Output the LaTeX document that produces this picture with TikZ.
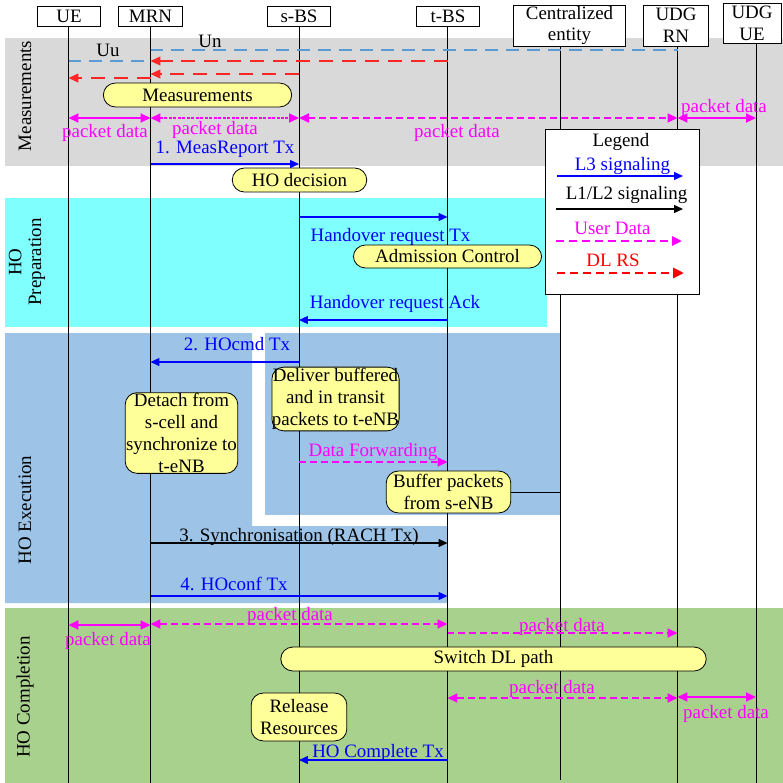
\documentclass[tikz,border=0pt]{standalone}
\usepackage{fontspec}
\setmainfont{Liberation Serif}
\usetikzlibrary{arrows.meta}
\definecolor{bandgray}{HTML}{D9D9D9}
\definecolor{bandcyan}{HTML}{80FFFF}
\definecolor{bandsteel}{HTML}{9DC3E6}
\definecolor{bandgreen}{HTML}{A9D18E}
\definecolor{pillyellow}{HTML}{FFFF99}
\definecolor{unblue}{HTML}{5B9BD5}
\definecolor{rsred}{HTML}{FF0000}
\definecolor{sigblue}{HTML}{0000FF}
\definecolor{datamag}{HTML}{FF00FF}
\tikzset{
  head/.style={draw, fill=white, inner sep=0pt, line width=0.8pt, align=center,
    font=\fontsize{19}{22}\selectfont},
  life/.style={line width=0.8pt},
  pill/.style={draw, fill=pillyellow, rounded corners=12pt, line width=0.8pt, inner sep=0pt},
  msgbox/.style={draw, fill=pillyellow, rounded corners=12pt, line width=0.8pt, inner sep=0pt,
    align=center, font=\fontsize{19}{22.3}\selectfont},
  lbl/.style={inner sep=0pt, text height=12.5pt, text depth=4pt, yshift=-1.5pt},
  phase/.style={rotate=90, inner sep=0pt, align=center, font=\fontsize{19}{20}\selectfont},
  sig/.style={sigblue, line width=1.3pt, -{Triangle[length=9pt,width=8pt]}},
  sigk/.style={black, line width=1.3pt, -{Triangle[length=9pt,width=8pt]}},
  rs/.style={rsred!85!white, line width=1.2pt, dash pattern=on 14pt off 9pt, -{Triangle[length=10pt,width=9pt]}},
  un/.style={unblue, line width=1.3pt, dash pattern=on 13pt off 8pt},
  dsolid/.style={datamag, line width=2pt, {Triangle[length=10pt,width=9pt]}-{Triangle[length=10pt,width=9pt]}},
  ddash/.style={datamag, line width=2pt, dash pattern=on 7pt off 4pt},
  ddot/.style={datamag, line width=2pt, dash pattern=on 3pt off 1.5pt},
  both/.style={{Triangle[length=10pt,width=9pt]}-{Triangle[length=10pt,width=9pt]}},
  fwd/.style={-{Triangle[length=10pt,width=9pt]}},
}
\begin{document}
\begin{tikzpicture}[x=1bp, y=-1bp, font=\fontsize{19}{22}\selectfont]
\useasboundingbox (0,0) rectangle (783,783);

% phase bands
\fill[bandgray] (5,38) rectangle (783,166);
\fill[bandcyan] (5,198) rectangle (547,327);
\fill[bandsteel] (5,333) -- (252,333) -- (252,526) -- (447.5,526) -- (447.5,603) -- (5,603) -- cycle;
\fill[bandsteel] (265,333) rectangle (560,515);
\fill[bandgreen] (5,608) rectangle (783,783);

% phase names
\node[phase] (pMeas) at (25,96) {Measurements};
\node[phase] (pPrep) at (27,262) {HO\\Preparation};
\node[phase] (pExec) at (25,510) {HO Execution};
\node[phase] (pComp) at (25,697) {HO Completion};

% lifeline heads
\coordinate (ue) at (68.5,26);
\coordinate (mrn) at (150.5,26);
\coordinate (sbs) at (299,26);
\coordinate (tbs) at (447.5,26);
\coordinate (cen) at (560.5,46);
\coordinate (rn) at (677.5,46);
\coordinate (udg) at (756,44);

\foreach \l in {ue,mrn,sbs,tbs,rn,udg}
  \draw[life] (\l) -- (\l |- 0,783);
\draw[life] (cen) -- (cen |- 0,780);

\node[head, minimum width=64pt, minimum height=20pt] (hUE) at (69,16) {UE};
\node[head, minimum width=65pt, minimum height=20pt] (hMRN) at (150.5,16) {MRN};
\node[head, minimum width=64pt, minimum height=20pt] (hSBS) at (299,16) {s-BS};
\node[head, minimum width=64pt, minimum height=20pt] (hTBS) at (448,16) {t-BS};
\node[head, minimum width=113pt, minimum height=41pt] (hCEN) at (569.5,25.5) {Centralized\\entity};
\node[head, minimum width=65pt, minimum height=41pt] (hRN) at (676,25.5) {UDG\\RN};
\node[head, minimum width=58pt, minimum height=40pt] (hUDG) at (752,23.5) {UDG\\UE};

% ---------- Measurements ----------
\draw[un] (mrn |- 0,50) -- (rn |- 0,50);
\draw[un] (ue |- 0,61) -- (mrn |- 0,61);
\node[lbl] (tUn) at (210,42) {Un};
\node[lbl] (tUu) at (108,51) {Uu};
\draw[rs] (tbs |- 0,61) -- (mrn |- 0,61);
\draw[rs] (sbs |- 0,74) -- (mrn |- 0,74);
\draw[rs] (mrn |- 0,78) -- (ue |- 0,78);

\node[pill, minimum width=189pt, minimum height=24pt] (bMeas) at (197.5,95) {Measurements};

\draw[dsolid] (ue |- 0,118) -- (mrn |- 0,118);
\draw[ddot, both] (mrn |- 0,118) -- (sbs |- 0,118);
\draw[ddash, both] (sbs |- 0,118) -- (rn |- 0,118);
\draw[dsolid] (rn |- 0,118) -- (udg |- 0,118);
\node[lbl, datamag] (pd1) at (105,132) {packet data};
\node[lbl, datamag] (pd2) at (215,128.5) {packet data};
\node[lbl, datamag] (pd3) at (457,132) {packet data};
\node[lbl, datamag] (pd4) at (724,107) {packet data};

\draw[sig] (mrn |- 0,164) -- (sbs |- 0,164);
\node[lbl, sigblue] (tMR) at (225,148) {1. MeasReport Tx};

\node[pill, minimum width=135pt, minimum height=24pt] (bDec) at (299.5,180) {HO decision};

% ---------- HO preparation ----------
\draw[sig] (sbs |- 0,217) -- (tbs |- 0,217);
\node[lbl, sigblue] (tHR) at (390.5,236) {Handover request Tx};
\node[pill, minimum width=189pt, minimum height=23pt] (bAdm) at (447.5,256.5) {Admission Control};
\draw[sig] (tbs |- 0,320) -- (sbs |- 0,320);
\node[lbl, sigblue] (tHA) at (395,303) {Handover request Ack};

% ---------- HO execution ----------
\draw[sig] (sbs |- 0,362) -- (mrn |- 0,362);
\node[lbl, sigblue] (tCmd) at (237,345) {2. HOcmd Tx};
\node[msgbox, minimum width=127pt, minimum height=64pt] (bDel) at (335.5,399)
  {Deliver buffered\\and in transit\\packets to t-eNB};
\node[msgbox, minimum width=113pt, minimum height=81pt] (bDet) at (181.5,433)
  {Detach from\\s-cell and\\synchronize to\\t-eNB};
\draw[ddash, fwd] (sbs |- 0,462) -- (tbs |- 0,462);
\node[lbl, datamag] (tDF) at (373,451) {Data Forwarding};
\node[msgbox, minimum width=125pt, minimum height=42pt, font=\fontsize{19}{21.5}\selectfont]
  (bBuf) at (448.5,492) {Buffer packets\\from s-eNB};
\draw[life] (bBuf.east |- 0,492) -- (cen |- 0,492);
\draw[sigk] (mrn |- 0,543) -- (tbs |- 0,543);
\node[lbl] (tSync) at (299,536) {3. Synchronisation (RACH Tx)};
\draw[sig] (mrn |- 0,596) -- (tbs |- 0,596);
\node[lbl, sigblue] (tConf) at (234,585) {4. HOconf Tx};

% ---------- HO completion ----------
\draw[dsolid] (ue |- 0,625) -- (mrn |- 0,625);
\node[lbl, datamag] (pd5) at (108,640) {packet data};
\draw[ddash, both] (mrn |- 0,624) -- (tbs |- 0,624);
\node[lbl, datamag] (pd6) at (290,615) {packet data};
\draw[ddash, fwd] (tbs |- 0,633) -- (rn |- 0,633);
\node[lbl, datamag] (pd7) at (562,626) {packet data};
\node[pill, minimum width=427pt, minimum height=24pt] (bSw) at (493.5,659) {Switch DL path};
\draw[ddash, both] (tbs |- 0,698) -- (rn |- 0,698);
\node[lbl, datamag] (pd8) at (552,688) {packet data};
\draw[dsolid] (rn |- 0,697) -- (udg |- 0,697);
\node[lbl, datamag] (pd9) at (726,713) {packet data};
\node[msgbox, minimum width=96pt, minimum height=48pt, font=\fontsize{19}{21.5}\selectfont]
  (bRel) at (299,717) {Release\\Resources};
\draw[sig] (tbs |- 0,760) -- (sbs |- 0,760);
\node[lbl, sigblue] (tComp) at (378,752) {HO Complete Tx};

% ---------- legend ----------
\node[draw, fill=white, line width=0.8pt, minimum width=155pt, minimum height=166pt, inner sep=0pt]
  (leg) at (622.5,212) {};
\node[lbl] (legT) at (621,141) {Legend};
\node[lbl, sigblue] (legL3) at (622.5,165) {L3 signaling};
\coordinate (a3s) at (557,176); \coordinate (a3e) at (683,176);
\draw[sig] (a3s) -- (a3e);
\node[lbl] (legL12) at (626.5,194) {L1/L2 signaling};
\coordinate (a2s) at (556,209); \coordinate (a2e) at (683,209);
\draw[sigk] (a2s) -- (a2e);
\node[lbl, datamag] (legUD) at (612.5,229) {User Data};
\coordinate (aus) at (556,241); \coordinate (aue) at (682,241);
\draw[datamag, line width=2.5pt, dash pattern=on 8pt off 5pt, fwd] (aus) -- (aue);
\node[lbl, rsred] (legRS) at (613,261) {DL RS};
\coordinate (ars) at (557,273); \coordinate (are) at (684,273);
\draw[rsred, line width=3pt, dash pattern=on 8pt off 5pt, -{Triangle[length=11pt,width=10pt]}] (ars) -- (are);
\end{tikzpicture}
\end{document}
